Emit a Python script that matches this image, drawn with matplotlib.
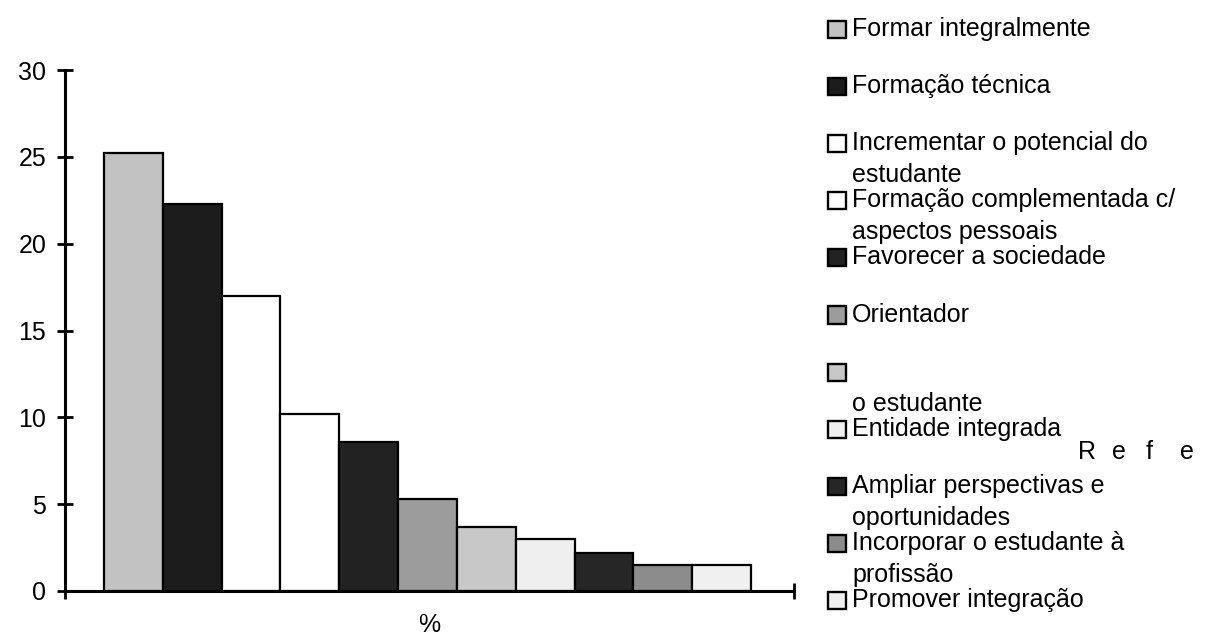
import matplotlib
matplotlib.use("Agg")
import matplotlib.pyplot as plt
from matplotlib.patches import Rectangle

# percentages per answer category
categorias = [
    "Formar integralmente",
    "Formação técnica",
    "Incrementar o potencial do\nestudante",
    "Formação complementada c/\naspectos pessoais",
    "Favorecer a sociedade",
    "Orientador",
    "\no estudante",
    "Entidade integrada",
    "Ampliar perspectivas e\noportunidades",
    "Incorporar o estudante à\nprofissão",
    "Promover integração",
]
valores = [25.2, 22.3, 17.0, 10.2, 8.6, 5.3, 3.7, 3.0, 2.2, 1.5, 1.5]
cores = ["#c2c2c2", "#1c1c1c", "#ffffff", "#ffffff", "#222222", "#9c9c9c",
         "#c8c8c8", "#efefef", "#262626", "#8c8c8c", "#f0f0f0"]
yticks = [0, 5, 10, 15, 20, 25, 30]

W, H = 1207, 636
plt.rcParams['font.family'] = ['Liberation Sans', 'DejaVu Sans']

fig = plt.figure(figsize=(W / 100, H / 100), dpi=100)
fig.patch.set_facecolor('white')


def px(x, y):
    # pixel position (from top-left) -> figure fraction
    return x / W, 1 - y / H


x0, y_top = px(65, 70)
x1, y_bot = px(794, 591)
ax = fig.add_axes([x0, y_bot, x1 - x0, y_top - y_bot])

pos = list(range(len(valores)))
ax.bar(pos, valores, width=1.0, color=cores, edgecolor='black', linewidth=1.6)

ax.set_xlim(-1.163, len(valores) - 0.5 + 0.731)
ax.set_ylim(0, 30)
ax.set_yticks(yticks)
ax.set_xticks([ax.get_xlim()[0], ax.get_xlim()[1]])
ax.set_xticklabels(['', ''])
ax.tick_params(axis='both', direction='inout', length=11, width=2,
               labelsize=18, pad=8)
for s in ['top', 'right']:
    ax.spines[s].set_visible(False)
for s in ['left', 'bottom']:
    ax.spines[s].set_linewidth(2.2)
ax.set_xlabel('%', fontsize=18, labelpad=2)

# legend drawn entry by entry, text wrapping downwards from each marker
step = 57.1
for i, (lab, c) in enumerate(zip(categorias, cores)):
    yc = 29 + i * step
    mx, my = px(828, yc + 9)
    fig.add_artist(Rectangle((mx, my), 18 / W, 17 / H, transform=fig.transFigure,
                             facecolor=c, edgecolor='black', linewidth=1.7))
    for j, linha in enumerate(lab.split('\n')):
        tx, ty = px(852, yc + j * 32)
        fig.text(tx, ty, linha, fontsize=18, va='center', ha='left')

for k, ch in enumerate("Refe"):
    tx, ty = px(1078 + k * 34, 452)
    fig.text(tx, ty, ch, fontsize=18, va='center', ha='left')

fig.savefig('out.png', dpi=100)
